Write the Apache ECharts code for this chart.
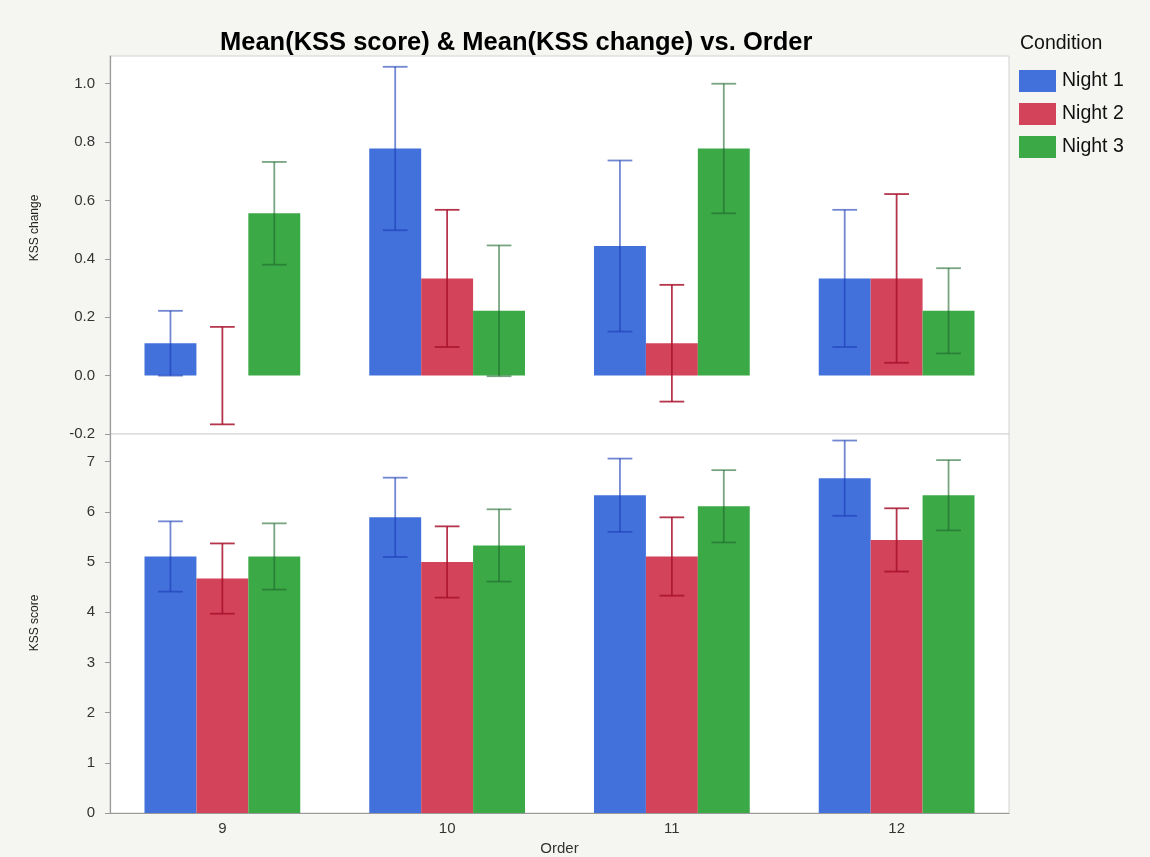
<!DOCTYPE html>
<html>
<head>
<meta charset="utf-8">
<script src="https://cdn.jsdelivr.net/npm/echarts@6/dist/echarts.min.js"></script>
<style>
  html, body { margin: 0; padding: 0; background: #f5f5f2; }
  #chart { width: 1150px; height: 857px; }
</style>
</head>
<body>
<div id="chart"></div>
<script>
// Categories and conditions
const orders = ['9', '10', '11', '12'];
const conditions = ['Night 1', 'Night 2', 'Night 3'];

// Mean KSS change per order, with error half-widths
const changeNight1 = [0.111, 0.778, 0.444, 0.333];
const changeNight2 = [0.0, 0.333, 0.111, 0.333];
const changeNight3 = [0.556, 0.222, 0.778, 0.222];
const changeErrNight1 = [0.111, 0.280, 0.293, 0.235];
const changeErrNight2 = [0.167, 0.235, 0.200, 0.289];
const changeErrNight3 = [0.176, 0.224, 0.222, 0.146];

// Mean KSS score per order, with error half-widths
const scoreNight1 = [5.11, 5.89, 6.33, 6.67];
const scoreNight2 = [4.67, 5.00, 5.11, 5.44];
const scoreNight3 = [5.11, 5.33, 6.11, 6.33];
const scoreErrNight1 = [0.70, 0.79, 0.73, 0.75];
const scoreErrNight2 = [0.70, 0.71, 0.78, 0.63];
const scoreErrNight3 = [0.66, 0.72, 0.72, 0.70];

const barColors = ['#4371dc', '#d3435a', '#3ba946'];
const errColors = ['rgba(28,62,180,0.62)', 'rgba(168,18,45,0.85)', 'rgba(30,105,45,0.6)'];

const BAR_FRAC = 0.231;   // bar width as a share of the category band
const CAP_FRAC = 0.11;    // error-cap width as a share of the category band
const FONT = '"Liberation Sans", Arial, sans-serif';

const changeMeans = [changeNight1, changeNight2, changeNight3];
const changeErrs = [changeErrNight1, changeErrNight2, changeErrNight3];
const scoreMeans = [scoreNight1, scoreNight2, scoreNight3];
const scoreErrs = [scoreErrNight1, scoreErrNight2, scoreErrNight3];

function barSeries(k, means, axis) {
  return {
    type: 'bar', name: conditions[k],
    xAxisIndex: axis, yAxisIndex: axis,
    barWidth: (BAR_FRAC * 100) + '%', barGap: '0%',
    itemStyle: { color: barColors[k] },
    data: means
  };
}

function errorSeries(k, means, errs, axis) {
  return {
    type: 'custom', name: conditions[k] + ' error',
    xAxisIndex: axis, yAxisIndex: axis, z: 5,
    encode: { x: 0, y: [1, 2] },
    data: means.map((m, i) => [i, m - errs[i], m + errs[i]]),
    renderItem(params, api) {
      const cat = api.value(0);
      const lo = api.coord([cat, api.value(1)]);
      const hi = api.coord([cat, api.value(2)]);
      const band = api.size([1, 0])[0];
      const x = lo[0] + (k - 1) * band * BAR_FRAC;
      const half = band * CAP_FRAC / 2;
      const style = { stroke: errColors[k], lineWidth: 1.8, fill: null };
      return {
        type: 'group',
        children: [
          { type: 'line', shape: { x1: x, y1: lo[1], x2: x, y2: hi[1] }, style },
          { type: 'line', shape: { x1: x - half, y1: hi[1], x2: x + half, y2: hi[1] }, style },
          { type: 'line', shape: { x1: x - half, y1: lo[1], x2: x + half, y2: lo[1] }, style }
        ]
      };
    }
  };
}

const series = [];
for (let k = 0; k < 3; k++) series.push(barSeries(k, changeMeans[k], 0));
for (let k = 0; k < 3; k++) series.push(barSeries(k, scoreMeans[k], 1));
for (let k = 0; k < 3; k++) series.push(errorSeries(k, changeMeans[k], changeErrs[k], 0));
for (let k = 0; k < 3; k++) series.push(errorSeries(k, scoreMeans[k], scoreErrs[k], 1));

const yAxisCommon = {
  type: 'value',
  axisLine: { show: true, lineStyle: { color: '#9a9a9a', width: 1.2 } },
  axisTick: { show: true, length: 5, lineStyle: { color: '#9a9a9a' } },
  axisLabel: { fontSize: 15, color: '#333', margin: 15, fontFamily: FONT, showMaxLabel: false },
  splitLine: { show: false }
};

function axisTitle(text, x, y) {
  return {
    type: 'text', x, y, rotation: Math.PI / 2,
    style: { text, fontSize: 12, fill: '#222', fontFamily: FONT, align: 'center', verticalAlign: 'middle' }
  };
}

const option = {
  backgroundColor: '#f5f5f2',
  animation: false,
  title: {
    text: 'Mean(KSS score) & Mean(KSS change) vs. Order',
    left: 215, top: 25,
    textStyle: { fontSize: 25.5, fontWeight: 'bold', color: '#000', fontFamily: FONT }
  },
  legend: {
    data: conditions,
    orient: 'vertical',
    left: 1019, top: 70, padding: 0,
    itemWidth: 37, itemHeight: 22, itemGap: 11,
    icon: 'rect',
    textStyle: { fontSize: 19.5, color: '#111', fontFamily: FONT, padding: [0, 0, 0, 1] }
  },
  graphic: [
    { type: 'text', left: 1020, top: 34,
      style: { text: 'Condition', fontSize: 19.5, fill: '#111', fontFamily: FONT } },
    axisTitle('KSS change', 35, 228),
    axisTitle('KSS score', 35, 623)
  ],
  grid: [
    { left: 110, top: 56, width: 899, height: 378, show: true, backgroundColor: '#fff', borderColor: '#d2d2d2', borderWidth: 1 },
    { left: 110, top: 434, width: 899, height: 379, show: true, backgroundColor: '#fff', borderColor: '#d2d2d2', borderWidth: 1 }
  ],
  xAxis: [
    { type: 'category', gridIndex: 0, data: orders,
      axisLine: { show: false }, axisTick: { show: false }, axisLabel: { show: false } },
    { type: 'category', gridIndex: 1, data: orders,
      name: 'Order', nameLocation: 'middle', nameGap: 28,
      nameTextStyle: { fontSize: 15, color: '#333', fontFamily: FONT },
      axisLine: { show: true, lineStyle: { color: '#9a9a9a', width: 1.2 } },
      axisTick: { show: false },
      axisLabel: { fontSize: 15, color: '#333', margin: 8, fontFamily: FONT } }
  ],
  yAxis: [
    Object.assign({}, yAxisCommon, {
      gridIndex: 0,
      min: -0.2, max: 1.095, interval: 0.2,
      axisLabel: Object.assign({}, yAxisCommon.axisLabel, { formatter: v => v.toFixed(1) })
    }),
    Object.assign({}, yAxisCommon, {
      gridIndex: 1,
      min: 0, max: 7.55, interval: 1
    })
  ],
  series
};

const chart = echarts.init(document.getElementById('chart'));
chart.setOption(option);
</script>
</body>
</html>
